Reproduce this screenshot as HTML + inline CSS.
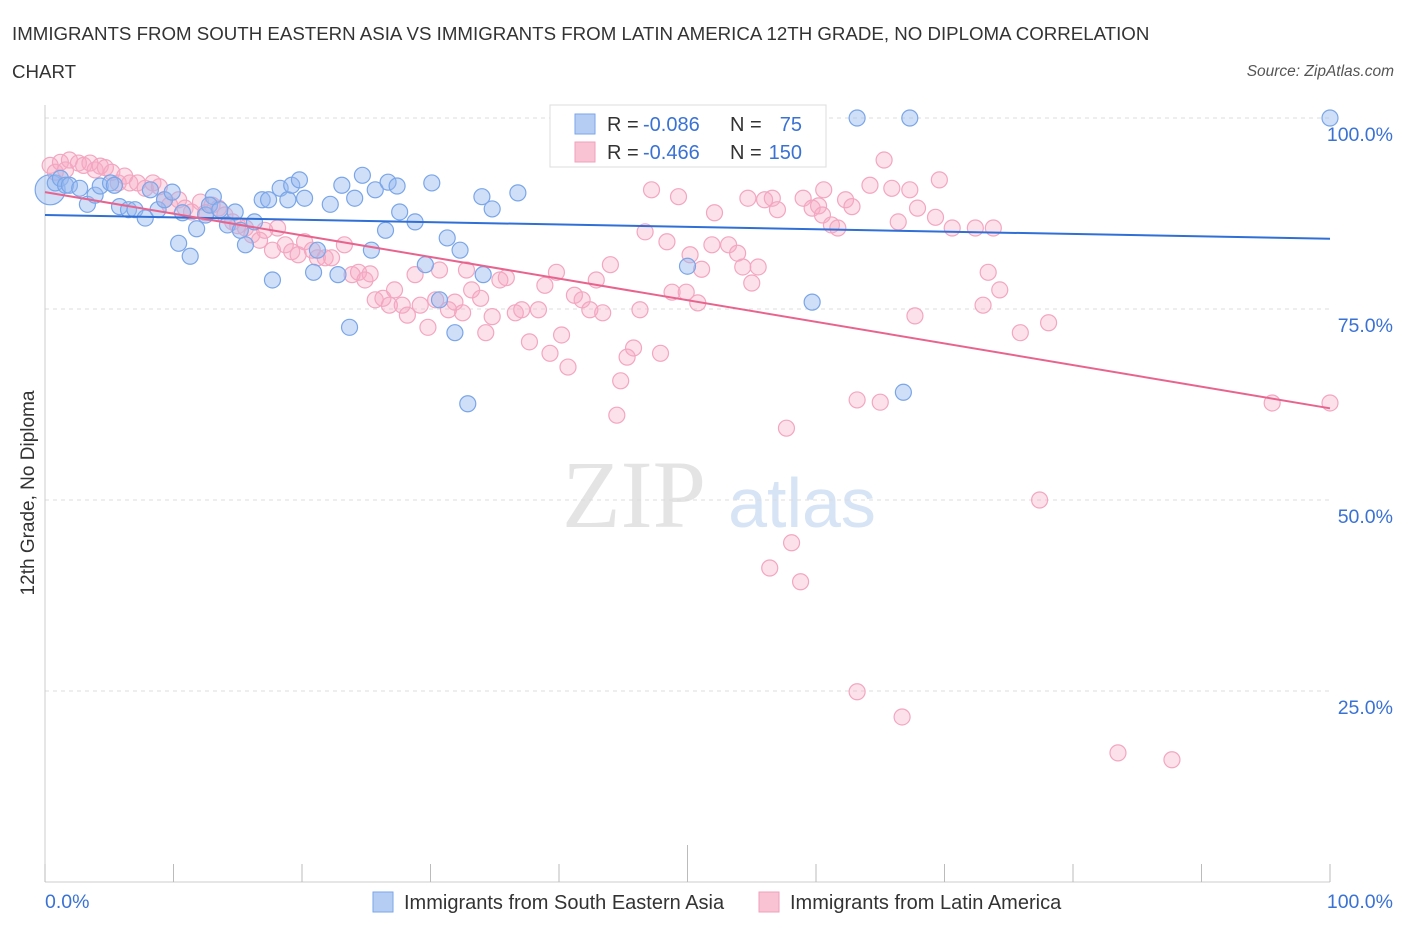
<!DOCTYPE html>
<html><head><meta charset="utf-8"><style>
body{margin:0;background:#fff;font-family:"Liberation Sans",sans-serif}
#c{position:relative;width:1406px;height:930px}
</style></head><body>
<div id="c">
<svg id="s" width="1406" height="930" xmlns="http://www.w3.org/2000/svg">
<text x="12" y="40" font-size="18.7" fill="#333">IMMIGRANTS FROM SOUTH EASTERN ASIA VS IMMIGRANTS FROM LATIN AMERICA 12TH GRADE, NO DIPLOMA CORRELATION</text>
<text x="12" y="78" font-size="18.7" fill="#333">CHART</text>
<text x="1394" y="76" font-size="15.5" fill="#555" font-style="italic" text-anchor="end">Source: ZipAtlas.com</text>
<text x="634" y="527" font-size="96" fill="#e4e4e4" font-family="Liberation Serif,serif" text-anchor="middle">ZIP</text>
<text x="802" y="527" font-size="70" fill="#d6e4f5" text-anchor="middle">atlas</text>
<g id="grid"></g><g id="axes"></g><g id="pts"></g><g id="lines"></g>
<text transform="translate(34,493) rotate(-90)" font-size="19" fill="#333" text-anchor="middle">12th Grade, No Diploma</text>
<g>
<rect x="550" y="105" width="276" height="62" fill="#fff" stroke="#ddd"/>
<rect x="575" y="114" width="20" height="20" fill="#b5cdf3" stroke="#7aa6e8"/>
<rect x="575" y="142" width="20" height="20" fill="#f9c3d4" stroke="#f0a0bb"/>
<text x="607" y="131" font-size="20" fill="#333">R =</text>
<text x="643" y="131" font-size="20" fill="#3a72d4">-0.086</text>
<text x="730" y="131" font-size="20" fill="#333">N =</text>
<text x="802" y="131" font-size="20" fill="#3a72d4" text-anchor="end">75</text>
<text x="607" y="159" font-size="20" fill="#333">R =</text>
<text x="643" y="159" font-size="20" fill="#3a72d4">-0.466</text>
<text x="730" y="159" font-size="20" fill="#333">N =</text>
<text x="802" y="159" font-size="20" fill="#3a72d4" text-anchor="end">150</text>
</g>
<g>
<rect x="373" y="892" width="20" height="20" fill="#b5cdf3" stroke="#7aa6e8"/>
<text x="404" y="909" font-size="20" fill="#333">Immigrants from South Eastern Asia</text>
<rect x="759" y="892" width="20" height="20" fill="#f9c3d4" stroke="#f0a0bb"/>
<text x="790" y="909" font-size="20" fill="#333">Immigrants from Latin America</text>
</g>
</svg></div>
<script>
const blueX=[0.4,0.8,1.2,1.6,1.9,2.7,3.3,3.9,4.3,5.1,5.4,5.8,6.5,7.0,7.8,8.2,8.8,9.3,9.9,10.4,10.7,11.3,11.8,12.5,13.1,12.8,13.6,14.2,14.8,15.2,15.6,16.3,16.9,17.4,17.7,18.3,18.9,19.2,19.8,20.2,20.9,21.2,22.2,22.8,23.1,23.7,24.1,24.7,25.4,25.7,26.5,26.7,27.4,27.6,28.8,29.6,30.1,30.7,31.3,31.9,32.3,32.9,34.0,34.1,34.8,36.8,43.2,50.0,59.7,63.2,66.8,67.3,100];
const blueY=[90.6,91.5,92.1,91.2,91.2,90.8,88.7,89.9,91.1,91.5,91.2,88.4,88.0,88.0,86.9,90.6,88.0,89.3,90.3,83.6,87.6,81.9,85.5,87.3,89.7,88.6,88.0,86.0,87.7,85.3,83.4,86.4,89.3,89.3,78.8,90.8,89.3,91.2,91.9,89.5,79.8,82.7,88.7,79.5,91.2,72.6,89.5,92.5,82.7,90.6,85.3,91.6,91.1,87.7,86.4,80.8,91.5,76.2,84.3,71.9,82.7,62.6,89.7,79.5,88.1,90.2,100,80.6,75.9,100,64.1,100,100];
const pinkX=[0.4,0.8,1.2,1.6,1.9,2.6,3.0,3.5,3.9,4.3,4.7,5.2,5.7,6.2,6.6,7.2,7.8,8.4,8.9,9.3,9.7,10.4,10.9,11.4,12.1,12.5,13.0,13.5,14.0,14.6,15.0,15.6,16.1,16.7,17.1,17.7,18.1,18.7,19.2,19.7,20.2,20.8,21.2,21.8,22.3,23.3,23.9,24.4,24.9,25.3,25.7,26.3,26.8,27.2,27.8,28.2,28.8,29.2,29.8,30.4,30.7,31.4,31.9,32.5,32.8,33.2,33.9,34.3,34.8,35.4,35.9,36.6,37.1,37.7,38.4,38.9,39.3,39.8,40.2,40.7,41.2,41.8,42.4,42.9,43.4,44.0,44.5,44.8,45.3,45.8,46.3,46.7,47.2,47.9,48.4,48.8,49.3,49.9,50.2,50.8,51.1,51.9,52.1,52.7,53.2,53.9,54.3,54.7,55.0,55.5,56.0,56.6,57.0,57.7,58.1,58.8,56.4,59.0,59.7,60.2,60.5,60.6,61.2,61.7,62.3,62.8,63.2,63.2,64.2,65.0,65.3,65.9,66.4,66.7,67.3,67.7,67.9,69.3,69.6,70.6,72.4,73.0,73.4,73.8,74.3,75.9,77.4,78.1,83.5,87.7,95.5,100];
const pinkY=[93.8,92.9,94.2,93.2,94.5,94.1,93.8,94.1,93.2,93.7,93.5,92.9,91.5,92.4,91.5,91.5,90.8,91.5,91.0,89.3,88.6,89.3,88.2,87.7,89.0,87.6,88.6,88.2,87.3,86.4,85.9,85.6,84.7,84.0,85.3,82.7,85.6,83.4,82.5,82.1,83.8,82.7,81.7,81.7,81.7,83.4,79.5,79.8,78.8,79.6,76.2,76.4,75.5,77.5,75.5,74.2,79.5,75.5,72.6,76.2,80.1,74.9,75.9,74.5,80.1,77.5,76.4,71.9,74.0,78.8,79.1,74.5,74.9,70.7,74.9,78.1,69.2,79.8,71.6,67.4,76.8,76.2,74.9,78.8,74.5,80.8,61.1,65.6,68.7,69.9,74.9,85.1,90.6,69.2,83.8,77.2,89.7,77.2,82.1,75.8,80.2,83.4,87.6,94.9,83.4,82.3,80.5,89.5,78.4,80.5,89.3,89.5,88.0,59.4,44.4,39.3,41.1,89.5,88.2,88.5,87.3,90.6,86.0,85.6,89.3,88.4,63.1,24.9,91.2,62.8,94.5,90.8,86.4,21.6,90.6,74.1,88.2,87.0,91.9,85.6,85.6,75.5,79.8,85.6,77.5,71.9,50.0,73.2,16.9,16.0,62.7,62.7];
const blueTrend=[87.3,84.2];
const pinkTrend=[90.3,62.0];
const yTicks=[100,75,50,25];
const yTickLabels=["100.0%","75.0%","50.0%","25.0%"];
const NS="http://www.w3.org/2000/svg";
const X0=45,X1=1330,Y0=882,YS=7.64;
const sx=v=>X0+(X1-X0)*v/100;
const sy=v=>Y0-YS*v;
function mk(tag,attrs,parent){const e=document.createElementNS(NS,tag);for(const k in attrs)e.setAttribute(k,attrs[k]);document.getElementById(parent).appendChild(e);return e;}
yTicks.forEach((t,i)=>{
 const l=mk('line',{x1:X0,x2:1330,y1:sy(t),y2:sy(t),stroke:'#ddd','stroke-dasharray':'4,4'},'grid');
 
 
 const tx=mk('text',{x:1393,y:sy(t)+23,'font-size':19.5,fill:'#3a72d4','text-anchor':'end'},'grid');
 tx.textContent=yTickLabels[i];
 
 
});
const ax=mk('line',{x1:X0,x2:X0,y1:105,y2:Y0,stroke:'#ccc'},'axes');


const bx=mk('line',{x1:X0,x2:X1,y1:Y0,y2:Y0,stroke:'#ccc'},'axes');


for(let i=0;i<=10;i++){const x=sx(i*10);const t=mk('line',{x1:x,x2:x,y1:i==5?845:864,y2:Y0,stroke:'#bbb'},'axes');
 
 }
const xl=mk('text',{x:45,y:908,'font-size':19.5,fill:'#3a72d4'},'axes');xl.textContent='0.0%';


const xr=mk('text',{x:1393,y:908,'font-size':19.5,fill:'#3a72d4','text-anchor':'end'},'axes');xr.textContent='100.0%';


pinkX.forEach((v,i)=>{const c=mk('circle',{cx:sx(v),cy:sy(pinkY[i]),r:8,fill:'rgba(246,170,196,0.35)',stroke:'#f3a6c1','stroke-width':1.2},'pts');
 
 });
blueX.forEach((v,i)=>{const c=mk('circle',{cx:sx(v),cy:sy(blueY[i]),r:i==0?15:8,fill:'rgba(150,185,240,0.45)',stroke:'#7aa6e8','stroke-width':1.2},'pts');
 
 });
const bl=mk('line',{x1:sx(0),y1:sy(blueTrend[0]),x2:sx(100),y2:sy(blueTrend[1]),stroke:'#2f6fd6','stroke-width':2},'lines');


const pl=mk('line',{x1:sx(0),y1:sy(pinkTrend[0]),x2:sx(100),y2:sy(pinkTrend[1]),stroke:'#e8648f','stroke-width':2},'lines');


</script>
</body></html>
